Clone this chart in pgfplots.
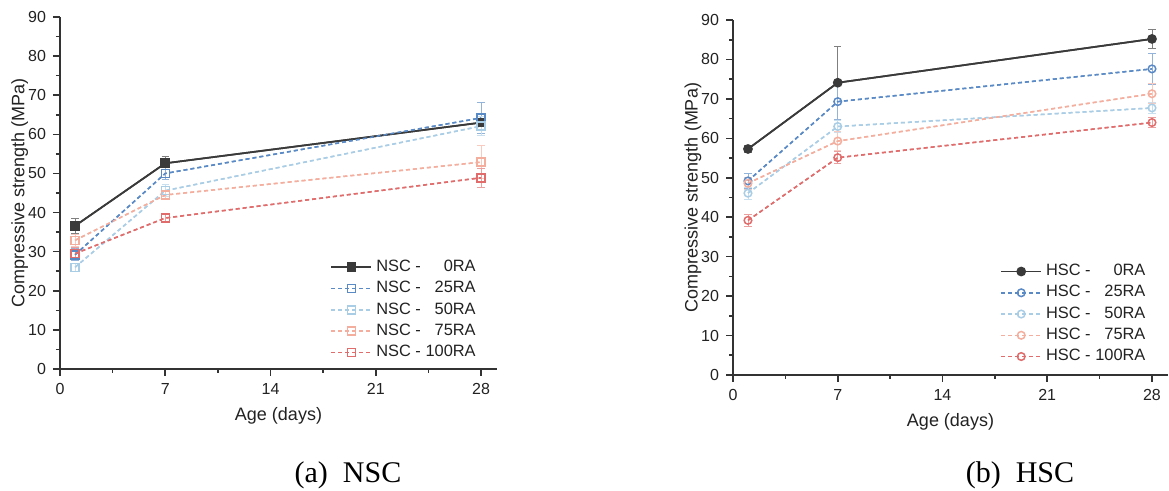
\documentclass[border=0pt]{standalone}
\usepackage{pgfplots}
\usepackage{pgfplotstable}
\pgfplotsset{compat=1.18}
\usepackage{fontspec}
\setmainfont{Liberation Sans}
\newfontfamily\capfont{Liberation Serif}
\definecolor{Ink}{HTML}{222222}
\definecolor{AxisInk}{HTML}{333333}
\definecolor{Ra0}{HTML}{3A3A3A}
\definecolor{Ra25}{HTML}{5A8AC6}
\definecolor{Ra50}{HTML}{AACDE6}
\definecolor{Ra75}{HTML}{F4AE9E}
\definecolor{Ra100}{HTML}{E06C6C}

% compressive strength (MPa) and error, by age (days)
\pgfplotstableread{
day r0   e0  r25  e25 r50  e50 r75  e75 r100 e100
1   36.6 2.0 29.2 1.5 26.0 1.0 32.9 1.5 29.5 1.5
7   52.6 1.7 50.0 1.5 45.6 1.5 44.5 1.0 38.6 1.2
28  63.0 1.0 64.2 4.0 62.1 2.5 52.9 4.3 48.9 2.5
}\nsc
\pgfplotstableread{
day r0   e0  r25  e25 r50  e50 r75  e75 r100 e100
1   57.3 0.8 49.2 1.8 46.1 1.5 48.6 1.5 39.2 1.5
7   74.1 9.2 69.3 4.6 63.0 1.5 59.3 2.5 55.1 1.5
28  85.2 2.5 77.6 4.0 67.7 1.5 71.3 2.5 64.0 1.2
}\hsc

\pgfplotsset{
  strength/.style={
    scale only axis,
    xmin=0,ymin=0,ymax=90,
    axis lines=left,axis line style={-,line width=0.9pt,color=AxisInk},
    xtick={0,7,14,21,28},ytick={0,10,...,90},
    minor x tick num=1,minor y tick num=1,
    tick align=outside,major tick length=3.5pt,minor tick length=2pt,
    every tick/.style={line width=0.8pt,color=AxisInk},
    tick label style={font=\fontsize{8}{9}\selectfont,color=Ink},
    /pgf/number format/assume math mode=true,
    label style={font=\fontsize{9}{10}\selectfont,color=Ink},
    xlabel={Age (days)},ylabel={Compressive strength (MPa)},
    legend cell align=left,
    legend style={draw=none,fill=none,font=\fontsize{8.2}{9}\selectfont,
      text=Ink,row sep=-0.6pt,anchor=south east},
    legend image code/.code={
      \draw[#1,mark repeat=2,mark phase=2] plot coordinates {(0pt,0pt) (10pt,0pt) (20pt,0pt)};},
  },
  % line with error bars only, drawn first so the markers sit on top
  eb/.style={forget plot,mark=none,
    error bars/y dir=both,error bars/y explicit,
    error bars/error bar style={solid,line width=0.45pt,draw=#1!65},
    error bars/error mark options={solid,rotate=90,mark size=1.8pt,line width=0.45pt,draw=#1!65}},
  dash/.style={dash pattern=on 2pt off 1.5pt,line width=0.75pt},
  s0/.style={color=Ra0,line width=0.85pt},
}

\begin{document}
\begin{tikzpicture}
\path[use as bounding box] (0,0) rectangle (584.5pt,245.5pt);

% (a) NSC
\begin{axis}[strength,at={(30pt,61pt)},anchor=south west,
  width=218.5pt,height=176pt,xmax=29.06,
  y label style={at={(axis description cs:-0.092,0.5)},anchor=center},
  x label style={at={(axis description cs:0.5,-0.134)},anchor=center},
  legend style={at={(axis description cs:0.975,0.003)}},
]
\addplot[s0,eb=Ra0] table[x=day,y=r0,y error=e0] {\nsc};
\addplot[color=Ra25,dash,eb=Ra25] table[x=day,y=r25,y error=e25] {\nsc};
\addplot[color=Ra50,dash,eb=Ra50] table[x=day,y=r50,y error=e50] {\nsc};
\addplot[color=Ra75,dash,eb=Ra75] table[x=day,y=r75,y error=e75] {\nsc};
\addplot[color=Ra100,dash,eb=Ra100] table[x=day,y=r100,y error=e100] {\nsc};
\addplot[s0,mark=square*,mark size=2pt,mark options={solid,fill=Ra0}]
  table[x=day,y=r0] {\nsc};
\addplot[color=Ra25,dash,mark=square,mark size=2pt,mark options={solid,fill=white}]
  table[x=day,y=r25] {\nsc};
\addplot[color=Ra50,dash,mark=square,mark size=2pt,mark options={solid,fill=white}]
  table[x=day,y=r50] {\nsc};
\addplot[color=Ra75,dash,mark=square,mark size=2pt,mark options={solid,fill=white}]
  table[x=day,y=r75] {\nsc};
\addplot[color=Ra100,dash,mark=square,mark size=2pt,mark options={solid,fill=white}]
  table[x=day,y=r100] {\nsc};
\legend{NSC - \phantom{10}0RA,NSC - \phantom{1}25RA,NSC - \phantom{1}50RA,NSC - \phantom{1}75RA,NSC - 100RA}
\end{axis}

% (b) HSC
\begin{axis}[strength,at={(366.5pt,58pt)},anchor=south west,
  width=217.5pt,height=177.5pt,xmax=29.07,
  y label style={at={(axis description cs:-0.092,0.5)},anchor=center},
  x label style={at={(axis description cs:0.5,-0.132)},anchor=center},
  legend style={at={(axis description cs:0.972,0.008)}},
]
\addplot[s0,eb=Ra0] table[x=day,y=r0,y error=e0] {\hsc};
\addplot[color=Ra25,dash,eb=Ra25] table[x=day,y=r25,y error=e25] {\hsc};
\addplot[color=Ra50,dash,eb=Ra50] table[x=day,y=r50,y error=e50] {\hsc};
\addplot[color=Ra75,dash,eb=Ra75] table[x=day,y=r75,y error=e75] {\hsc};
\addplot[color=Ra100,dash,eb=Ra100] table[x=day,y=r100,y error=e100] {\hsc};
\addplot[s0,mark=*,mark size=2pt,mark options={solid,fill=Ra0}]
  table[x=day,y=r0] {\hsc};
\addplot[color=Ra25,dash,mark=o,mark size=1.9pt,mark options={solid,fill=white}]
  table[x=day,y=r25] {\hsc};
\addplot[color=Ra50,dash,mark=o,mark size=1.9pt,mark options={solid,fill=white}]
  table[x=day,y=r50] {\hsc};
\addplot[color=Ra75,dash,mark=o,mark size=1.9pt,mark options={solid,fill=white}]
  table[x=day,y=r75] {\hsc};
\addplot[color=Ra100,dash,mark=o,mark size=1.9pt,mark options={solid,fill=white}]
  table[x=day,y=r100] {\hsc};
\legend{HSC - \phantom{10}0RA,HSC - \phantom{1}25RA,HSC - \phantom{1}50RA,HSC - \phantom{1}75RA,HSC - 100RA}
\end{axis}

\node[font=\capfont\fontsize{15}{17}\selectfont,text=black] at (174pt,8pt) {(a)\hspace{0.5em}NSC};
\node[font=\capfont\fontsize{15}{17}\selectfont,text=black] at (510pt,8pt) {(b)\hspace{0.5em}HSC};
\end{tikzpicture}
\end{document}
